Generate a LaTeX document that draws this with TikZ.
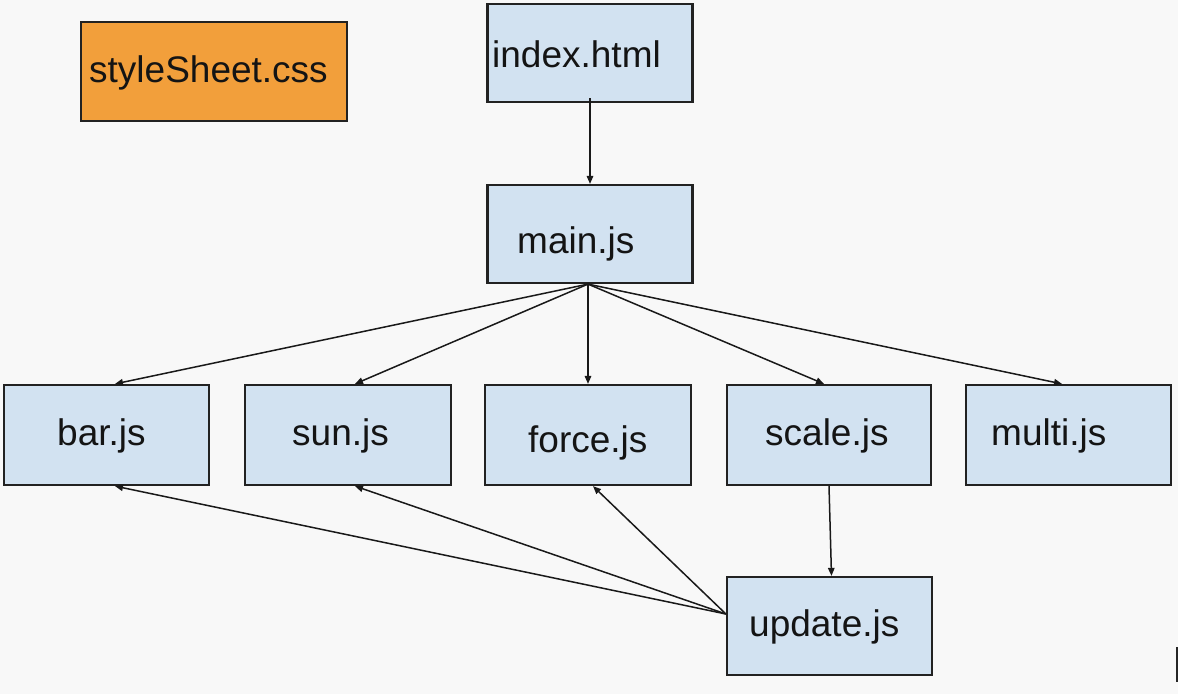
\documentclass[tikz,border=0pt]{standalone}
\usepackage{fontspec}
\setmainfont{Liberation Sans}
\usetikzlibrary{arrows.meta}
\definecolor{bgc}{HTML}{F8F8F8}
\definecolor{boxblue}{HTML}{D2E2F1}
\definecolor{boxorange}{HTML}{F29F3B}
\definecolor{edgec}{HTML}{222222}
\tikzset{
  filebox/.style={draw=edgec, line width=2.2pt, rectangle, inner sep=0pt,
    minimum height=98pt, minimum width=205pt, fill=boxblue},
  cssbox/.style={filebox, fill=boxorange, minimum width=266pt, minimum height=99pt},
  lbl/.style={font=\fontsize{37}{40}\selectfont, inner sep=0pt, anchor=base west, text=black!92},
  conn/.style={draw=black!90, line width=1.5pt, -{Triangle[length=8pt,width=6.5pt]}},
}
\begin{document}
\begin{tikzpicture}[x=1pt,y=-1pt]
\fill[bgc] (0,0) rectangle (1178,694);
\useasboundingbox (0,0) rectangle (1178,694);

% boxes
\node[cssbox] (style) at (214,71.5) {};
\node[filebox] (index) at (590,53) {};
\node[filebox] (main) at (590,234) {};
\node[filebox, minimum height=100pt] (bar) at (106.5,435) {};
\node[filebox, minimum height=100pt, minimum width=206pt] (sun) at (348,435) {};
\node[filebox, minimum height=100pt, minimum width=206pt] (force) at (588,435) {};
\node[filebox, minimum height=100pt, minimum width=204pt] (scale) at (829,435) {};
\node[filebox, minimum height=100pt] (multi) at (1068.5,435) {};
\node[filebox] (update) at (829.5,626) {};

% labels
\node[lbl] (tstyle) at (89,82) {styleSheet.css};
\node[lbl] (tindex) at (492,67) {index.html};
\node[lbl] (tmain) at (517,253) {main.js};
\node[lbl] (tbar) at (57,445) {bar.js};
\node[lbl] (tsun) at (292,445) {sun.js};
\node[lbl] (tforce) at (528,452) {force.js};
\node[lbl] (tscale) at (765,445) {scale.js};
\node[lbl] (tmulti) at (991,445) {multi.js};
\node[lbl] (tupdate) at (749,636) {update.js};

% connectors
\draw[conn] ([yshift=5pt]index.south) -- (main.north);
\draw[conn] ([xshift=-2pt]main.south) -- ([xshift=8.5pt]bar.north);
\draw[conn] ([xshift=-2pt]main.south) -- ([xshift=7pt]sun.north);
\draw[conn] ([xshift=-2pt]main.south) -- (force.north);
\draw[conn] ([xshift=-2pt]main.south) -- ([xshift=-5pt]scale.north);
\draw[conn] ([xshift=-2pt]main.south) -- ([xshift=-6.5pt]multi.north);
\draw[conn] (scale.south) -- ([xshift=2pt]update.north);
\draw[conn] ([yshift=12pt]update.west) -- ([xshift=8.5pt]bar.south);
\draw[conn] ([yshift=12pt]update.west) -- ([xshift=7pt]sun.south);
\draw[conn] ([yshift=12pt]update.west) -- ([xshift=5pt]force.south);

% stray mark at right edge
\draw[black!85, line width=1.5pt] (1177,647) -- (1177,682);
\end{tikzpicture}
\end{document}
